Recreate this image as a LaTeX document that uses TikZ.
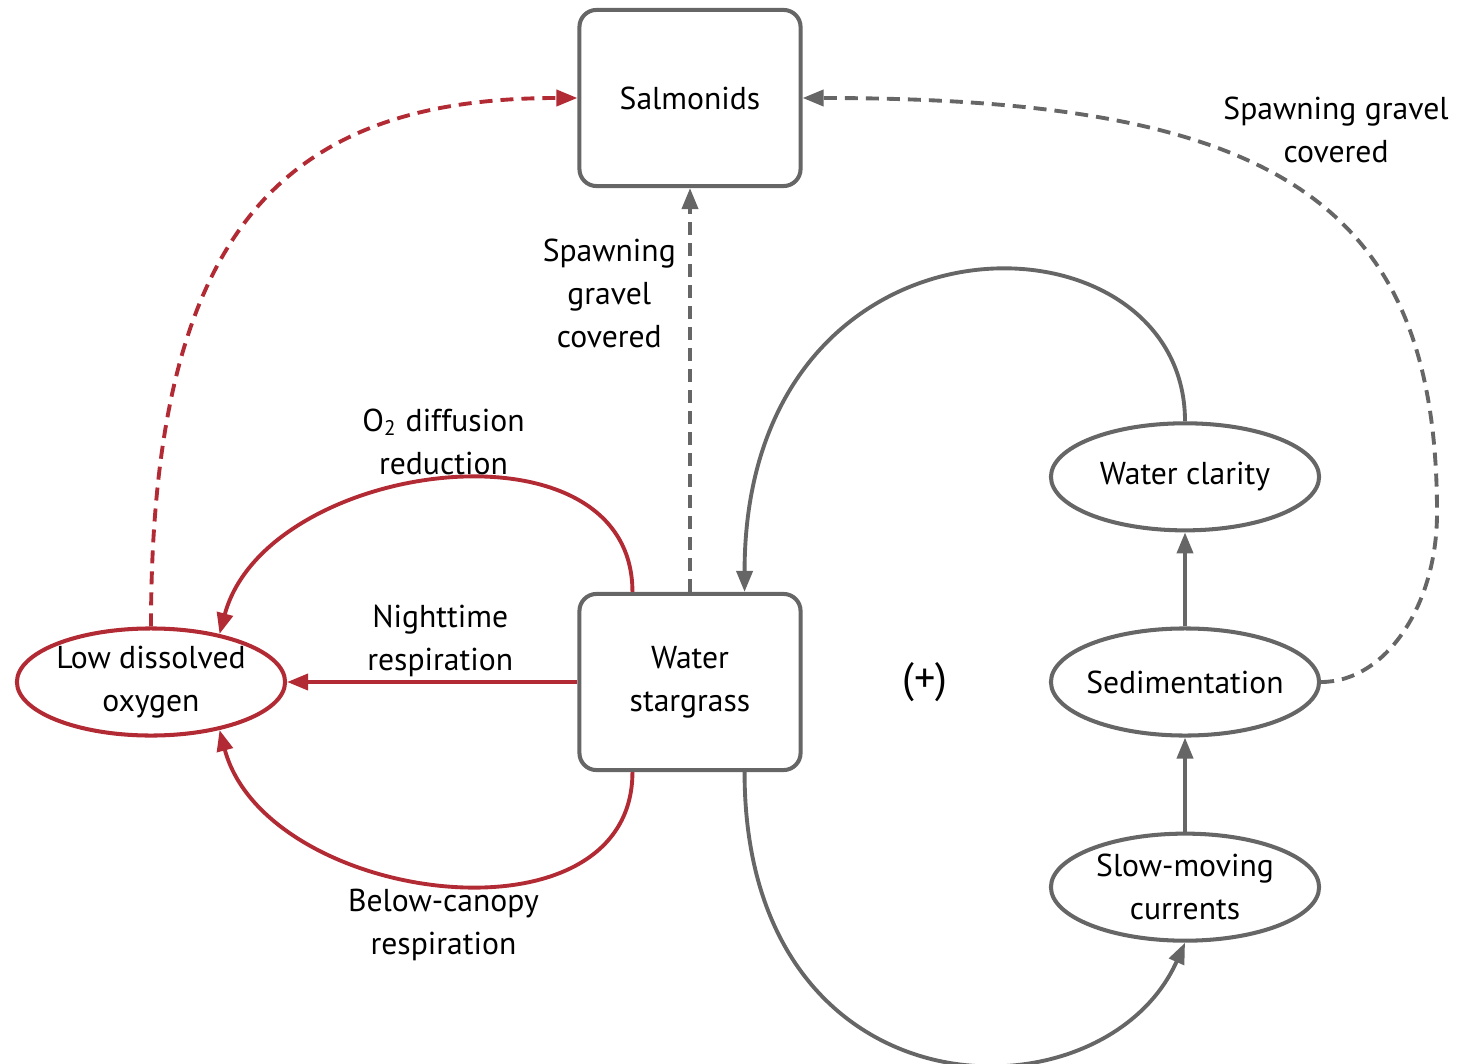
\documentclass[tikz,border=0pt]{standalone}
\usepackage{fontspec}
\setmainfont{PT Sans}
\usetikzlibrary{positioning}
\usetikzlibrary{shapes.geometric,arrows.meta}
\definecolor{loopred}{HTML}{B22A33}
\definecolor{loopgray}{HTML}{666666}

\begin{document}
\begin{tikzpicture}[x=0.01cm,y=0.01cm,
  every node/.style={font=\fontsize{9}{12.2}\selectfont,align=center,text=black},
  box/.style={draw=loopgray,line width=1.15pt,rounded corners=0.17cm,minimum width=2.21cm,minimum height=1.76cm},
  oval/.style={draw=loopgray,ellipse,line width=1.15pt,minimum width=2.68cm,minimum height=1.07cm,inner ysep=0pt,inner xsep=-3pt},
  tag/.style={inner sep=1pt},
  link/.style={line width=1.1pt,-{Triangle[length=0.21cm,width=0.16cm]}},
  dashlink/.style={link,dash pattern=on 0.13cm off 0.08cm}]
\useasboundingbox (0,0) rectangle (1458,1063);
\node[box] (salm) at (690,965) {Salmonids};
\node[box] (sg) at (690,381) {Water\\stargrass};
\node[oval,draw=loopred] (ldo) at (151,381) {Low dissolved\\oxygen};
\node[oval] (sed) at (1185,381) {Sedimentation};
\begin{scope}[node distance=0.94cm]
\node[oval,above=of sed] (clar) {Water clarity};
\node[oval,below=of sed] (slow) {Slow-moving\\currents};
\end{scope}
\node[font=\fontsize{12}{14}\selectfont] (plus) at (925,381) {(+)};
\coordinate (far) at (1437,550);

\draw[dashlink,loopred] (ldo.north) to[out=90,in=180,out distance=4cm,in distance=2.9cm] (salm.west);
\draw[dashlink,loopgray] (sg.north) -- node[tag,pos=0.74,left=2.5pt] {Spawning\\gravel\\covered} (salm.south);
\draw[dashlink,loopgray] (sed.east) to[out=0,in=-90,out distance=0.64cm,in distance=0.93cm] (far)
  to[out=90,in=0,out distance=3.1cm,in distance=4.74cm] (salm.east);
\node[tag] (sgc) at (1336,933) {Spawning gravel\\covered};

\draw[link,loopred] ([xshift=0.55cm]sg.north west) to[out=90,in=75,out distance=1.8cm,in distance=1.8cm] node[tag,above] {O\textsubscript{2} diffusion\\reduction} (ldo.35);
\draw[link,loopred] (sg.west) -- node[tag,above,xshift=0.08cm] {Nighttime\\respiration} (ldo.east);
\draw[link,loopred] ([xshift=0.55cm]sg.south west) to[out=-90,in=-75,out distance=1.8cm,in distance=1.8cm] node[tag,below] {Below-canopy\\respiration} (ldo.-35);

\draw[link,loopgray] (clar.north) to[out=90,in=90,out distance=2.2cm,in distance=4cm] ([xshift=-0.58cm]sg.north east);
\draw[link,loopgray] ([xshift=-0.58cm]sg.south east) to[out=-90,in=-114,out distance=3.5cm,in distance=2cm] (slow.south);
\draw[link,loopgray] (slow) -- (sed);
\draw[link,loopgray] (sed) -- (clar);
\end{tikzpicture}
\end{document}
